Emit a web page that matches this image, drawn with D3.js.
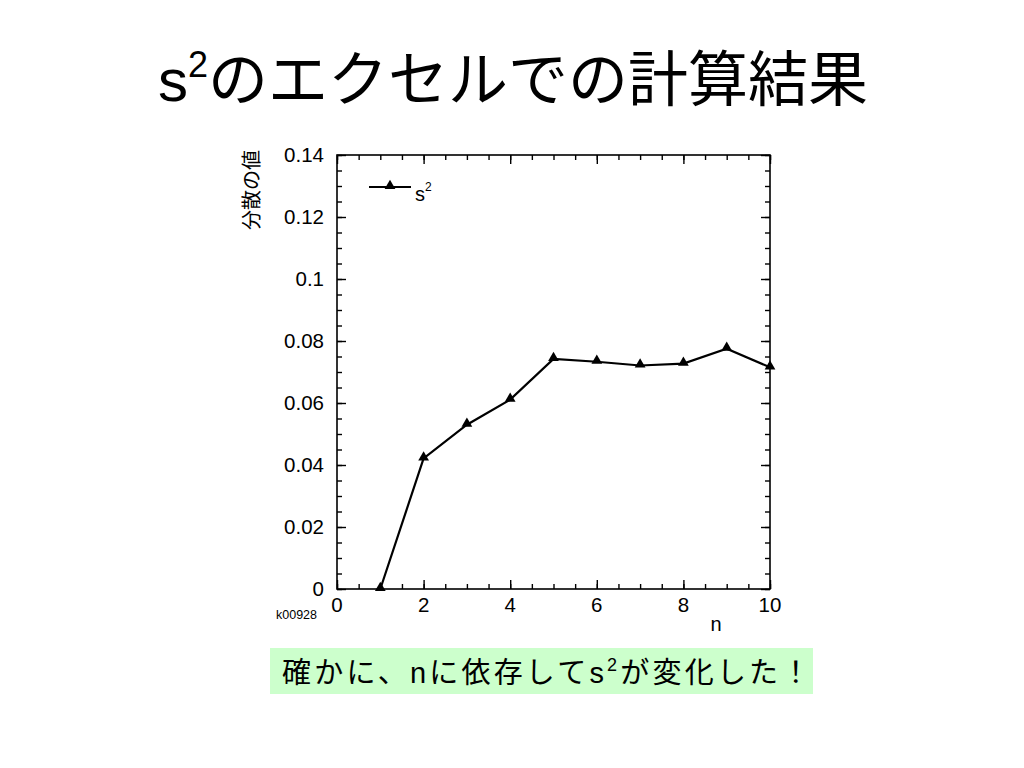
<!DOCTYPE html>
<html><head><meta charset="utf-8">
<script src="https://cdn.jsdelivr.net/npm/d3@7"></script>
<style>
body{margin:0;background:#fff;}
svg{display:block;}
</style></head>
<body>
<svg id="c" width="1024" height="768"></svg>
<script>
const nValues = [1,2,3,4,5,6,7,8,9,10];
const s2Values = [0.0,0.0421,0.0530,0.0611,0.0742,0.0733,0.0721,0.0727,0.0775,0.0715];
const yTicks = [0,0.02,0.04,0.06,0.08,0.1,0.12,0.14];
const yTickLabels = ["0","0.02","0.04","0.06","0.08","0.1","0.12","0.14"];
const xTicks = [0,2,4,6,8,10];
const xTickLabels = ["0","2","4","6","8","10"];

const svg = d3.select("#c");
const jp = "'Liberation Sans','Noto Sans CJK JP',sans-serif";

// Title
const title = svg.append("text").attr("x",158).attr("y",101)
  .attr("font-family",jp).attr("font-size",60).attr("fill","#000");
title.append("tspan").text("s");
title.append("tspan").attr("dy",-24).attr("font-size",36).text("2");
title.append("tspan").attr("dy",24).text("のエクセルでの計算結果");

const L=337,R=770,T=155,B=589;
const x = d3.scaleLinear().domain([0,10]).range([L,R]);
const y = d3.scaleLinear().domain([0,0.14]).range([B,T]);

const g = svg.append("g");
g.append("rect").attr("x",L).attr("y",T).attr("width",R-L).attr("height",B-T)
  .attr("fill","none").attr("stroke","#000").attr("stroke-width",1.6);

const yMinor = d3.range(0,0.1401,0.005);
const xMinor = d3.range(0,10.01,0.5);
function styleAxis(sel){sel.select(".domain").remove();sel.selectAll("line").attr("stroke","#000").attr("stroke-width",1.4);}
g.append("g").attr("transform",`translate(${L},0)`).call(d3.axisLeft(y).tickValues(yMinor).tickSize(-5).tickFormat("")).call(styleAxis);
g.append("g").attr("transform",`translate(${R},0)`).call(d3.axisRight(y).tickValues(yMinor).tickSize(-5).tickFormat("")).call(styleAxis);
g.append("g").attr("transform",`translate(0,${B})`).call(d3.axisBottom(x).tickValues(xMinor).tickSize(-5).tickFormat("")).call(styleAxis);
g.append("g").attr("transform",`translate(0,${T})`).call(d3.axisTop(x).tickValues(xMinor).tickSize(-5).tickFormat("")).call(styleAxis);
g.append("g").attr("transform",`translate(${L},0)`).call(d3.axisLeft(y).tickValues(yTicks).tickSize(-9).tickFormat("")).call(styleAxis);
g.append("g").attr("transform",`translate(${R},0)`).call(d3.axisRight(y).tickValues(yTicks).tickSize(-9).tickFormat("")).call(styleAxis);
g.append("g").attr("transform",`translate(0,${B})`).call(d3.axisBottom(x).tickValues(xTicks).tickSize(-9).tickFormat("")).call(styleAxis);
g.append("g").attr("transform",`translate(0,${T})`).call(d3.axisTop(x).tickValues(xTicks).tickSize(-9).tickFormat("")).call(styleAxis);

// tick labels
svg.selectAll(".yl").data(yTicks).enter().append("text")
  .attr("x",324).attr("y",d=>y(d)+7).attr("text-anchor","end")
  .attr("font-family",jp).attr("font-size",20.5).text((d,i)=>yTickLabels[i]);
svg.selectAll(".xl").data(xTicks).enter().append("text")
  .attr("x",d=>x(d)).attr("y",612).attr("text-anchor","middle")
  .attr("font-family",jp).attr("font-size",20.5).text((d,i)=>xTickLabels[i]);

// axis titles
svg.append("text").attr("transform","translate(259,190) rotate(-90)")
  .attr("text-anchor","middle").attr("font-family",jp).attr("font-size",20).text("分散の値");
svg.append("text").attr("x",716).attr("y",631).attr("text-anchor","middle")
  .attr("font-family",jp).attr("font-size",20).text("n");
svg.append("text").attr("x",276).attr("y",619)
  .attr("font-family",jp).attr("font-size",12.5).text("k00928");

// line
const line = d3.line().x((d,i)=>x(nValues[i])).y(d=>y(d));
g.append("path").datum(s2Values).attr("d",line).attr("fill","none")
  .attr("stroke","#000").attr("stroke-width",2.2);
const tri = d3.symbol().type(d3.symbolTriangle).size(50);
g.selectAll(".m").data(s2Values).enter().append("path")
  .attr("d",tri).attr("transform",(d,i)=>`translate(${x(nValues[i])},${y(d)-1})`).attr("fill","#000");

// legend
g.append("line").attr("x1",369).attr("x2",411).attr("y1",187).attr("y2",187).attr("stroke","#000").attr("stroke-width",2);
g.append("path").attr("d",tri).attr("transform","translate(390,186)").attr("fill","#000");
const lt = svg.append("text").attr("x",415).attr("y",201).attr("font-family",jp).attr("font-size",20);
lt.append("tspan").text("s");
lt.append("tspan").attr("dy",-10).attr("font-size",12).text("2");

// note box
svg.append("rect").attr("x",270).attr("y",648).attr("width",543).attr("height",46).attr("fill","#ccffcc");
const nt = svg.append("text").attr("x",282).attr("y",683).attr("font-family",jp).attr("font-size",29).attr("letter-spacing",3.2);
nt.append("tspan").text("確かに、nに依存してs");
nt.append("tspan").attr("dy",-12).attr("font-size",18).text("2");
nt.append("tspan").attr("dy",12).text("が変化した！");
</script>
</body></html>
